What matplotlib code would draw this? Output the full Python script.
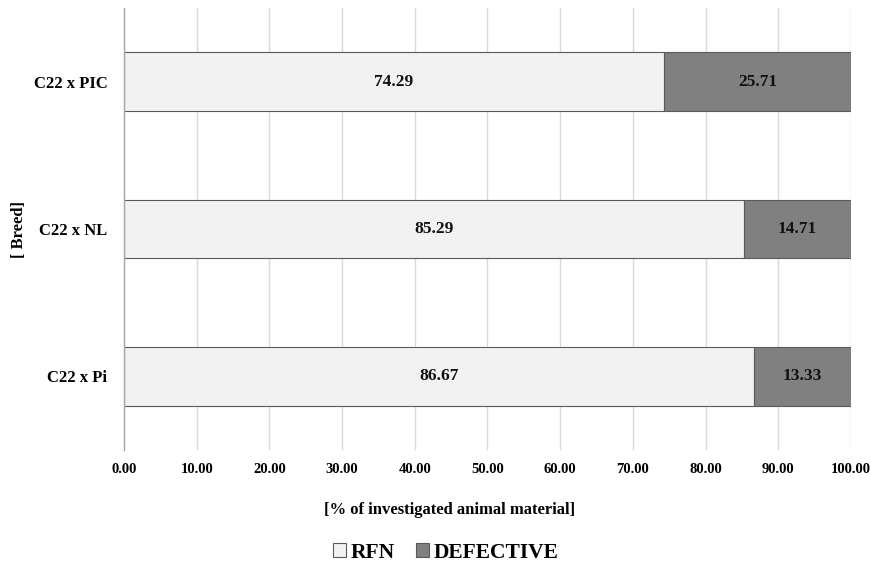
import matplotlib.pyplot as plt
import numpy as np

plt.rcParams["font.family"] = ["Liberation Serif", "DejaVu Serif"]
plt.rcParams["font.weight"] = "bold"

breeds = ["C22 x Pi", "C22 x NL", "C22 x PIC"]
rfn = [86.67, 85.29, 74.29]
defective = [13.33, 14.71, 25.71]
xticks = np.arange(0, 101, 10)

RFN_COL = "#f2f2f2"
DEF_COL = "#808080"
EDGE = "#5a5a5a"

fig = plt.figure(figsize=(8.71, 5.65), dpi=100)
ax = fig.add_axes([0.1424, 0.2035, 0.8346, 0.7823])

y = np.arange(len(breeds))
h = 0.4
ax.barh(y, rfn, height=h, color=RFN_COL, edgecolor=EDGE, linewidth=0.8,
        label="RFN", zorder=2)
ax.barh(y, defective, left=rfn, height=h, color=DEF_COL, edgecolor=EDGE,
        linewidth=0.8, label="DEFECTIVE", zorder=2)

for i in range(len(breeds)):
    ax.text(rfn[i] / 2, y[i], f"{rfn[i]:.2f}", ha="center", va="center",
            fontsize=12.5, fontweight="bold", color="#111111", zorder=3)
    ax.text(rfn[i] + defective[i] / 2, y[i], f"{defective[i]:.2f}",
            ha="center", va="center", fontsize=12.5, fontweight="bold",
            color="#111111", zorder=3)

ax.set_xlim(0, 100)
ax.set_ylim(-0.5, len(breeds) - 0.5)
ax.set_xticks(xticks)
ax.set_xticklabels([f"{v:.2f}" for v in xticks], fontsize=10.5, fontweight="bold")
ax.set_yticks(y)
ax.set_yticklabels(breeds, fontsize=12, fontweight="bold")
ax.tick_params(axis="both", length=0)
ax.tick_params(axis="x", pad=9)
ax.tick_params(axis="y", pad=12)

ax.grid(axis="x", color="#d9d9d9", linewidth=1.0, zorder=0)
ax.set_axisbelow(True)
for s in ["top", "right", "bottom"]:
    ax.spines[s].set_visible(False)
ax.spines["left"].set_color("#a6a6a6")
ax.spines["left"].set_linewidth(1.0)

ax.set_xlabel("[% of investigated animal material]", fontsize=12,
              fontweight="bold", labelpad=19)
ax.xaxis.label.set_x(0.448)
ax.set_ylabel("[ Breed]", fontsize=12, fontweight="bold")
ax.yaxis.set_label_coords(-0.133, 0.5)

fig.legend(loc="lower center", bbox_to_anchor=(0.512, -0.03), ncol=2,
           frameon=False, prop={"size": 15.5, "weight": "bold"},
           handlelength=0.6, handleheight=0.6, handletextpad=0.2,
           columnspacing=1.0)

fig.savefig("out.png", dpi=100)
